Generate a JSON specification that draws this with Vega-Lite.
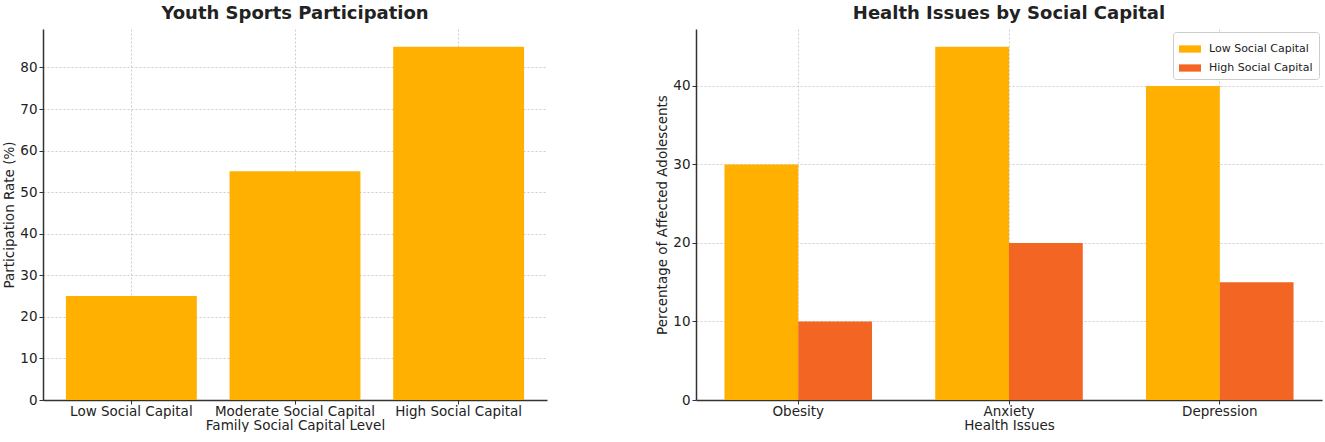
{
  "$schema": "https://vega.github.io/schema/vega-lite/v6.json",
  "padding": {"left": 2, "top": 5, "right": 2, "bottom": 0},
  "background": "white",
  "spacing": 108,
  "resolve": {"legend": {"color": "independent"}, "scale": {"color": "independent"}},
  "config": {
    "font": "DejaVu Sans",
    "view": {"stroke": null},
    "axis": {
      "labelFont": "DejaVu Sans",
      "titleFont": "DejaVu Sans",
      "labelFontSize": 13.5,
      "titleFontSize": 13.5,
      "titleFontWeight": "normal",
      "labelColor": "#222",
      "titleColor": "#222",
      "domainColor": "#333",
      "domainWidth": 1.5,
      "tickColor": "#333",
      "tickSize": 4,
      "gridColor": "#cccccc",
      "gridDash": [2, 2],
      "gridWidth": 1,
      "labelPadding": 2,
      "titlePadding": 3
    },
    "axisX": {"labelPadding": 0, "titlePadding": 1},
    "title": {"font": "DejaVu Sans", "fontSize": 18, "fontWeight": "bold", "color": "#222", "offset": 6}
  },
  "datasets": {
    "participation": [
      {"level": "Low Social Capital", "rate": 25},
      {"level": "Moderate Social Capital", "rate": 55},
      {"level": "High Social Capital", "rate": 85}
    ],
    "health": [
      {"issue": "Obesity", "group": "Low Social Capital", "pct": 30},
      {"issue": "Obesity", "group": "High Social Capital", "pct": 10},
      {"issue": "Anxiety", "group": "Low Social Capital", "pct": 45},
      {"issue": "Anxiety", "group": "High Social Capital", "pct": 20},
      {"issue": "Depression", "group": "Low Social Capital", "pct": 40},
      {"issue": "Depression", "group": "High Social Capital", "pct": 15}
    ]
  },
  "hconcat": [
    {
      "title": "Youth Sports Participation",
      "width": 504,
      "height": 371,
      "data": {"name": "participation"},
      "mark": {"type": "bar", "color": "#FFB000"},
      "encoding": {
        "x": {
          "field": "level", "type": "nominal", "sort": null,
          "title": "Family Social Capital Level",
          "scale": {"paddingInner": 0.2, "paddingOuter": 0.14},
          "axis": {"labelAngle": 0, "grid": true, "domain": true}
        },
        "y": {
          "field": "rate", "type": "quantitative",
          "title": "Participation Rate (%)",
          "scale": {"domain": [0, 89.25], "nice": false},
          "axis": {"values": [0, 10, 20, 30, 40, 50, 60, 70, 80], "grid": true}
        }
      }
    },
    {
      "title": "Health Issues by Social Capital",
      "width": 626,
      "height": 371,
      "data": {"name": "health"},
      "mark": {"type": "bar"},
      "encoding": {
        "x": {
          "field": "issue", "type": "nominal", "sort": ["Obesity", "Anxiety", "Depression"],
          "title": "Health Issues",
          "scale": {"paddingInner": 0.3, "paddingOuter": 0.135},
          "axis": {"labelAngle": 0, "grid": true}
        },
        "xOffset": {
          "field": "group", "type": "nominal",
          "sort": ["Low Social Capital", "High Social Capital"],
          "scale": {"paddingInner": 0, "paddingOuter": 0}
        },
        "y": {
          "field": "pct", "type": "quantitative",
          "title": "Percentage of Affected Adolescents",
          "scale": {"domain": [0, 47.25], "nice": false},
          "axis": {"values": [0, 10, 20, 30, 40], "grid": true}
        },
        "color": {
          "field": "group", "type": "nominal",
          "sort": ["Low Social Capital", "High Social Capital"],
          "scale": {"domain": ["Low Social Capital", "High Social Capital"], "range": ["#FFB000", "#F26522"]},
          "legend": {
            "title": null,
            "orient": "top-right",
            "offset": 3,
            "fillColor": "white",
            "strokeColor": "#cccccc",
            "cornerRadius": 3,
            "padding": 6,
            "labelFont": "DejaVu Sans",
            "labelFontSize": 11,
            "labelColor": "#222",
            "symbolType": "M-1,-0.33H1V0.33H-1Z",
            "symbolSize": 484,
            "symbolStrokeWidth": 0,
            "rowPadding": 3,
            "labelOffset": 8
          }
        }
      }
    }
  ]
}
